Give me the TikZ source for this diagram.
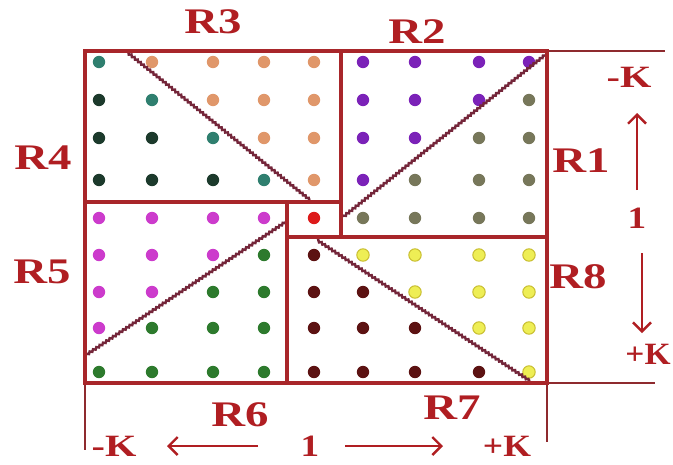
\documentclass[tikz,border=0pt]{standalone}
\usepackage{fontspec}
\setmainfont{Liberation Serif}
\usetikzlibrary{arrows.meta,decorations.pathmorphing}
\definecolor{lineRed}{HTML}{A8262A}
\definecolor{extRed}{HTML}{8E2A2E}
\definecolor{diagRed}{HTML}{74263A}
\definecolor{txtRed}{HTML}{B01E22}
\definecolor{cT}{HTML}{2F7F6F}
\definecolor{cD}{HTML}{1C3A2C}
\definecolor{cO}{HTML}{E0976A}
\definecolor{cP}{HTML}{7B22B8}
\definecolor{cL}{HTML}{77775A}
\definecolor{cM}{HTML}{CC3BCC}
\definecolor{cG}{HTML}{2D7A2D}
\definecolor{cB}{HTML}{5C1212}
\definecolor{cR}{HTML}{DD1A1A}
\definecolor{cY}{HTML}{EEEE55}
\definecolor{cYo}{HTML}{C8BE30}
\tikzset{
  boxline/.style={draw=lineRed,line width=3.2pt},
  extline/.style={draw=extRed,line width=1.8pt},
  diagline/.style={draw=diagRed,line width=2.4pt,decorate,
    decoration={zigzag,segment length=4pt,amplitude=0.9pt}},
  rlabel/.style={text=txtRed,font=\fontsize{36}{36}\selectfont\bfseries,inner sep=0pt},
  klabel/.style={text=txtRed,font=\fontsize{31}{31}\selectfont\bfseries,inner sep=0pt},
  karrow/.style={draw=txtRed,line width=2.6pt,-{Straight Barb[length=9pt,width=18pt,line width=2.4pt]}},
  dT/.style={fill=cT}, dD/.style={fill=cD}, dO/.style={fill=cO},
  dP/.style={fill=cP}, dL/.style={fill=cL}, dM/.style={fill=cM},
  dG/.style={fill=cG}, dB/.style={fill=cB}, dR/.style={fill=cR},
  dY/.style={fill=cY,draw=cYo,line width=1pt},
}
\begin{document}
\begin{tikzpicture}[x=1pt,y=-1pt]
\useasboundingbox (0,0) rectangle (673,464);
\fill[white] (0,0) rectangle (673,464);
% dots
\foreach \yy/\row in {62/{T,O,O,O,O,P,P,P,P},100/{D,T,O,O,O,P,P,P,L},138/{D,D,T,O,O,P,P,L,L},180/{D,D,D,T,O,P,L,L,L},218/{M,M,M,M,R,L,L,L,L},255/{M,M,M,G,B,Y,Y,Y,Y},292/{M,M,G,G,B,B,Y,Y,Y},328/{M,G,G,G,B,B,B,Y,Y},372/{G,G,G,G,B,B,B,B,Y}}{
  \foreach \c [count=\i] in \row {
    \pgfmathsetmacro\xx{{99,152,213,264,314,363,415,479,529}[\i-1]}
    \path[d\c] (\xx,\yy) circle (6.2);
  }
}
% coordinates
\coordinate (TL) at (85,51);
\coordinate (TR) at (547,51);
\coordinate (BL) at (85,383);
\coordinate (BR) at (547,383);
\coordinate (topext) at (665,51);
\coordinate (botext) at (655,383);
\coordinate (leftext) at (85,450);
\coordinate (rightext) at (547,442);
\coordinate (cTop) at (341,51);
\coordinate (cTR) at (341,237);
\coordinate (cLeft) at (85,202);
\coordinate (cTL) at (287,202);
\coordinate (cBot) at (287,383);
\coordinate (cBL) at (287,237);
\coordinate (cRight) at (547,237);
\coordinate (cTRtop) at (341,202);
% extension lines
\draw[extline] (TR) -- (topext);
\draw[extline] (BR) -- (botext);
\draw[extline] (BL) -- (leftext);
\draw[extline] (BR) -- (rightext);
% diagonals
\coordinate (d1a) at (127,52);  \coordinate (d1b) at (310,200);
\coordinate (d2a) at (343,217); \coordinate (d2b) at (545,55);
\coordinate (d3a) at (86,355);  \coordinate (d3b) at (287,221);
\coordinate (d4a) at (317,240); \coordinate (d4b) at (530,381);
\draw[diagline] (d1a) -- (d1b);
\draw[diagline] (d2a) -- (d2b);
\draw[diagline] (d3a) -- (d3b);
\draw[diagline] (d4a) -- (d4b);
% box lines
\draw[boxline] (TL) rectangle (BR);
\draw[boxline] (cTop) -- (cTR);
\draw[boxline] (cLeft) -- (cTRtop);
\draw[boxline] (cTL) -- (cBot);
\draw[boxline] (cBL) -- (cRight);
% region labels
\node[rlabel] (R3) at (213,22) {\scalebox{1.3}[1]{R3}};
\node[rlabel] (R2) at (417,32) {\scalebox{1.3}[1]{R2}};
\node[rlabel] (R4) at (43,158) {\scalebox{1.3}[1]{R4}};
\node[rlabel] (R1) at (581,161) {\scalebox{1.3}[1]{R1}};
\node[rlabel] (R5) at (42,272) {\scalebox{1.3}[1]{R5}};
\node[rlabel] (R8) at (578,277) {\scalebox{1.3}[1]{R8}};
\node[rlabel] (R6) at (240,415) {\scalebox{1.3}[1]{R6}};
\node[rlabel] (R7) at (452,408) {\scalebox{1.3}[1]{R7}};
% K labels
\node[klabel] (kvtop) at (629,77) {\scalebox{1.3}[1]{-K}};
\node[klabel] (kvone) at (637,218) {\scalebox{1.2}[1]{1}};
\node[klabel] (kvbot) at (648,354) {\scalebox{1.08}[1]{+K}};
\node[klabel] (khleft) at (114,446) {\scalebox{1.3}[1]{-K}};
\node[klabel] (khone) at (310,446) {\scalebox{1.2}[1]{1}};
\node[klabel] (khright) at (507,446) {\scalebox{1.15}[1]{+K}};
% arrows
\coordinate (au1) at (637,190); \coordinate (au2) at (637,113);
\coordinate (ad1) at (642,253); \coordinate (ad2) at (642,333);
\coordinate (al1) at (258,446); \coordinate (al2) at (167,446);
\coordinate (ar1) at (345,446); \coordinate (ar2) at (443,446);
\draw[karrow] (au1) -- (au2);
\draw[karrow] (ad1) -- (ad2);
\draw[karrow] (al1) -- (al2);
\draw[karrow] (ar1) -- (ar2);
\end{tikzpicture}
\end{document}
